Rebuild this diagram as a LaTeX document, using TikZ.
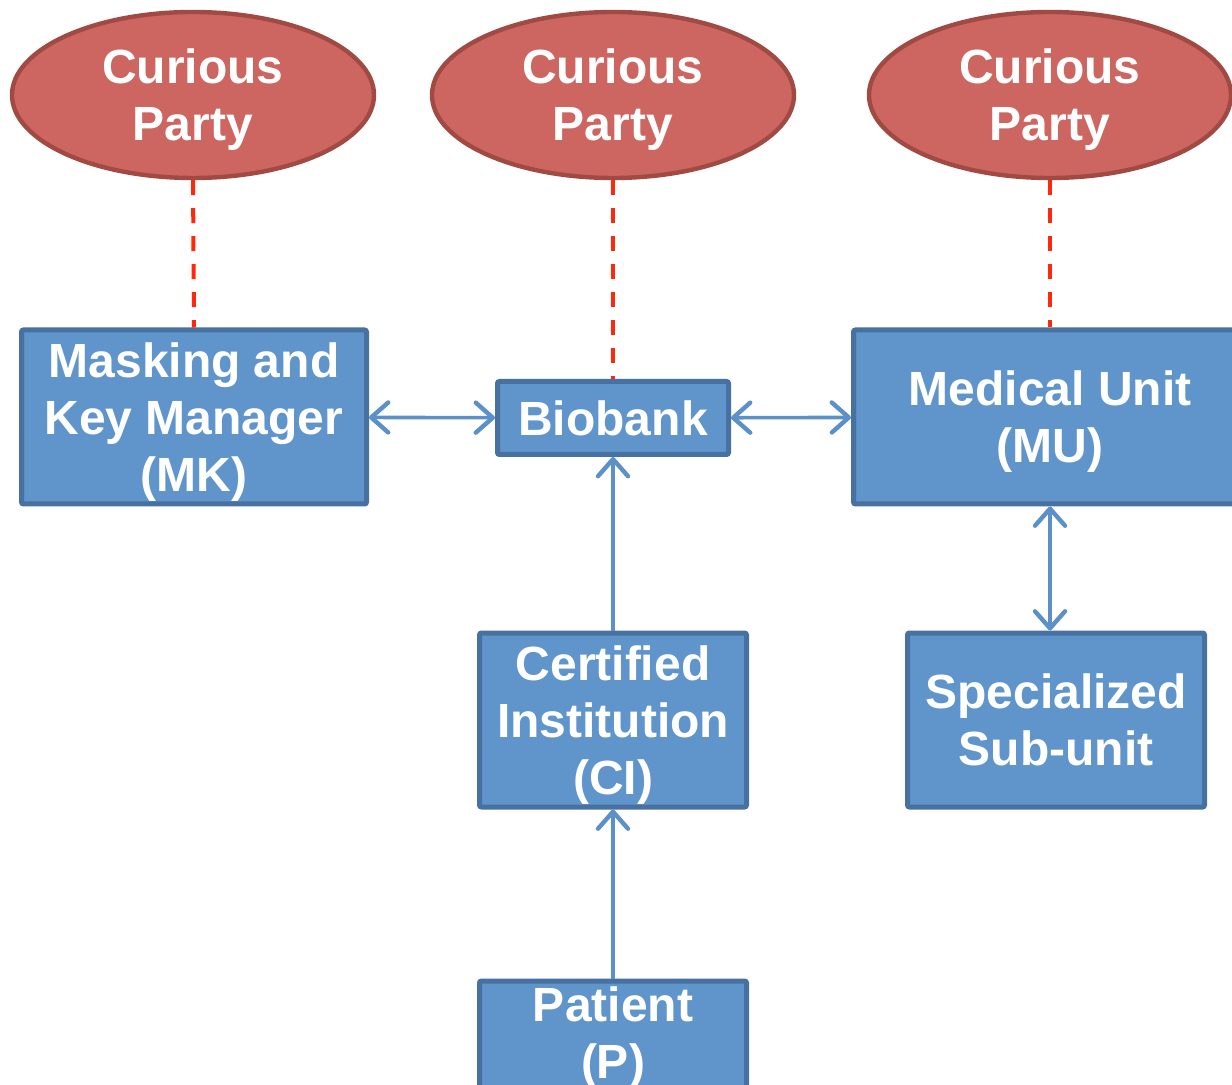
\documentclass[tikz,border=0pt]{standalone}
\usepackage{fontspec}
\setmainfont{Liberation Sans}
\usepackage{tikz}
\usetikzlibrary{arrows.meta, positioning, shapes.geometric}

\definecolor{partyfill}{RGB}{205,102,96}
\definecolor{partyline}{RGB}{160,74,67}
\definecolor{unitfill}{RGB}{96,149,203}
\definecolor{unitline}{RGB}{70,113,160}
\definecolor{linkblue}{RGB}{91,144,200}
\definecolor{watchred}{RGB}{255,40,10}

\begin{document}
\begin{tikzpicture}[x=0.5pt, y=-0.5pt,
    >={Straight Barb[round, length=8.5pt, width=15pt, line width=2.2pt]},
    every node/.style={font=\bfseries\fontsize{24}{28.5}\selectfont, text=white, align=center, text depth=0pt},
    party/.style={draw=partyline, fill=partyfill, ellipse, line width=2.2pt, inner sep=0pt, minimum width=181pt, minimum height=83pt},
    unitbox/.style={draw=unitline, fill=unitfill, rectangle, line width=2.5pt, rounded corners=1pt, inner sep=2pt},
    link/.style={draw=linkblue, line width=1.8pt},
    watch/.style={draw=watchred, line width=2pt, dash pattern=on 7.5pt off 6.5pt}]
            \clip (0,0) rectangle (1232,1085);

            % curious parties
            \node (cp1) [party] at (193,95) {Curious\\Party};
            \node (cp2) [party] at (613,95) {Curious\\Party};
            \node (cp3) [party] at (1050,95) {Curious\\Party};

            % blocks
            \node (mk) [unitbox, minimum width=172.5pt, minimum height=87pt] at (194,417)
            {Masking and\\Key Manager\\(MK)};

            \node (bio) [unitbox, minimum width=115.5pt, minimum height=36.5pt] at (613,418)
            {Biobank};

            \node (mu) [unitbox, minimum width=196.5pt, minimum height=87pt] at (1050,417)
            {Medical Unit\\(MU)};

            \node (ci) [unitbox, minimum width=133.5pt, minimum height=87pt] at (613,720)
            {Certified\\Institution\\(CI)};

            \node (sub) [unitbox, minimum width=148.5pt, minimum height=87pt] at (1056,720)
            {Specialized\\Sub-unit};

            \node (pat) [unitbox, minimum width=133.5pt, minimum height=87pt, text depth=35pt] at (613,1068)
            {Patient\\(P)};

            % dashed links
            \draw[watch] (cp1.south) -- (mk.north);
            \draw[watch] (cp2.south) -- (bio.north);
            \draw[watch] (cp3.south) -- (mu.north);

            % arrows
            \draw[link, <->] (mk) -- (bio);
            \draw[link, <->] (bio) -- (mu);
            \draw[link, ->] (ci) -- (bio);
            \draw[link, ->] (pat) -- (ci);
            \draw[link, <->] (mu.south) -- (mu.south |- sub.north);

        \end{tikzpicture}
\end{document}
